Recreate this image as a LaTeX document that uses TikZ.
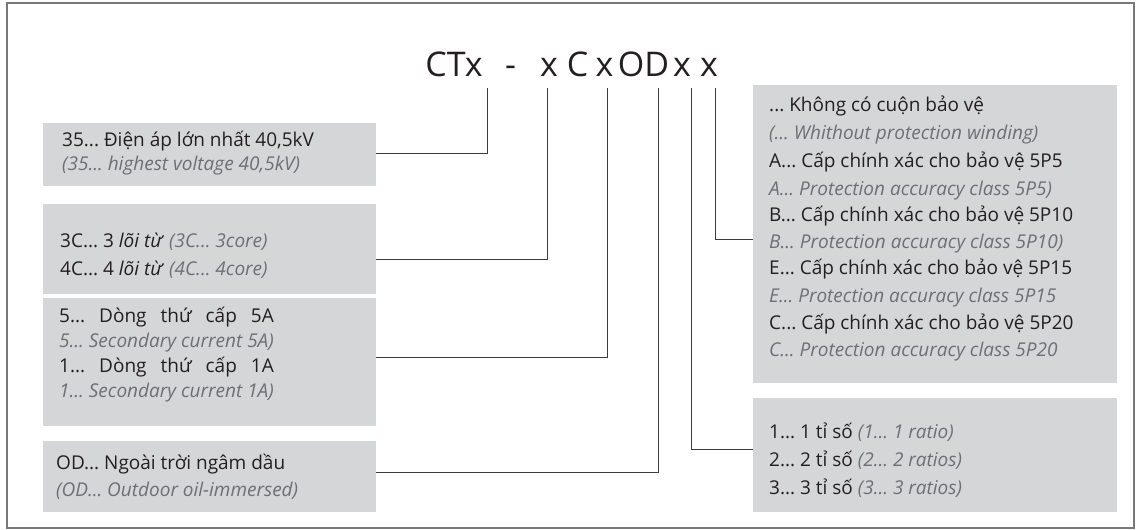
\documentclass[tikz,border=0pt]{standalone}
\usepackage{fontspec}
\setmainfont{Open Sans}
\definecolor{boxgray}{RGB}{213,214,216}
\definecolor{txtblack}{RGB}{35,31,32}
\definecolor{txtgray}{RGB}{110,111,114}
\definecolor{framegray}{RGB}{120,120,122}
\definecolor{linegray}{RGB}{60,60,62}
\frenchspacing
\newcommand\spreadline[2]{\setbox0\hbox{\itshape #1}\hbox to \wd0{#2}}
\begin{document}
\begin{tikzpicture}[x=1pt,y=-1pt,
  infobox/.style={draw=none,fill=boxgray,anchor=north west,inner sep=0pt},
  main/.style={anchor=base west,inner sep=0pt,text=txtblack,font=\fontsize{19}{21}\selectfont\frenchspacing},
  sub/.style={anchor=base west,inner sep=0pt,text=txtgray,font=\fontsize{19}{21}\selectfont\itshape\frenchspacing},
  title/.style={anchor=base,inner sep=0pt,text=txtblack,font=\fontsize{34}{38}\selectfont},
  conn/.style={draw=linegray,line width=1pt}]
\useasboundingbox (0,0) rectangle (1141,530);
\draw[framegray,line width=1.6pt] (7,3) rectangle (1134,528);

% title
\node[title] (t1) at (454,76) {CTx};
\node[title] (t2) at (510.5,76) {-};
\node[title] (t3) at (549,76) {x};
\node[title] (t4) at (577.5,76) {C};
\node[title] (t5) at (604.5,76) {x};
\node[title] (t6) at (643.5,76) {OD};
\node[title] (t7) at (682,76) {x};
\node[title] (t8) at (709,76) {x};

% boxes
\node[infobox,minimum width=333pt,minimum height=63pt] (b1) at (43,123) {};
\node[infobox,minimum width=333pt,minimum height=90pt] (b2) at (43,204) {};
\node[infobox,minimum width=333pt,minimum height=128pt] (b3) at (43,298) {};
\node[infobox,minimum width=333pt,minimum height=71pt] (b4) at (43,441) {};
\node[infobox,minimum width=364pt,minimum height=298pt] (b5) at (753,85) {};
\node[infobox,minimum width=364pt,minimum height=114pt] (b6) at (753,398) {};

% box 1
\node[main] (l11) at (62,146) {35... Điện áp lớn nhất 40,5kV};
\node[sub] (l12) at (62,170) {(35... highest voltage 40,5kV)};
% box 2
\node[main] (l21) at (60,247) {3C... 3 \textit{lõi từ} {\color{txtgray}\itshape (3C... 3core)}};
\node[main] (l22) at (60,275) {4C... 4 \textit{lõi từ} {\color{txtgray}\itshape (4C... 4core)}};
% box 3
\node[main] (l31) at (59,322) {\spreadline{5... Secondary current 5A)}{5...\hfill Dòng\hfill thứ\hfill cấp\hfill 5A}};
\node[sub] (l32) at (59,347) {5... Secondary current 5A)};
\node[main] (l33) at (59,372) {\spreadline{1... Secondary current 1A)}{1...\hfill Dòng\hfill thứ\hfill cấp\hfill 1A}};
\node[sub] (l34) at (59,397) {1... Secondary current 1A)};
% box 4
\node[main] (l41) at (56,469) {OD... Ngoài trời ngâm dầu};
\node[sub] (l42) at (56,496) {(OD... Outdoor oil-immersed)};
% box 5
\node[main] (l51) at (769,111) {... Không có cuộn bảo vệ};
\node[sub] (l52) at (769,139) {(... Whithout protection winding)};
\node[main] (l53) at (769,167) {A... Cấp chính xác cho bảo vệ 5P5};
\node[sub] (l54) at (769,195) {A... Protection accuracy class 5P5)};
\node[main] (l55) at (769,221) {B... Cấp chính xác cho bảo vệ 5P10};
\node[sub] (l56) at (769,248) {B... Protection accuracy class 5P10)};
\node[main] (l57) at (769,274) {E... Cấp chính xác cho bảo vệ 5P15};
\node[sub] (l58) at (769,302) {E... Protection accuracy class 5P15};
\node[main] (l59) at (769,329) {C... Cấp chính xác cho bảo vệ 5P20};
\node[sub] (l5a) at (769,356) {C... Protection accuracy class 5P20};
% box 6
\node[main] (l61) at (769,438) {1... 1 tỉ số {\color{txtgray}\itshape (1... 1 ratio)}};
\node[main] (l62) at (769,466) {2... 2 tỉ số {\color{txtgray}\itshape (2... 2 ratios)}};
\node[main] (l63) at (769,494) {3... 3 tỉ số {\color{txtgray}\itshape (3... 3 ratios)}};

% connector tops
\coordinate (c1) at (487,88);
\coordinate (c2) at (547,88);
\coordinate (c3) at (607,88);
\coordinate (c4) at (658,88);
\coordinate (c5) at (691,88);
\coordinate (c6) at (715,88);

\draw[conn] (c1) |- ([yshift=1.5pt]b1.east);
\draw[conn] (c2) |- ([yshift=-10pt]b2.east);
\draw[conn] (c3) |- ([yshift=5pt]b3.east);
\draw[conn] (c4) |- ([yshift=4pt]b4.east);
\draw[conn] (c6) |- ([yshift=-5pt]b5.west);
\draw[conn] (c5) |- ([yshift=6pt]b6.west);
\end{tikzpicture}
\end{document}
